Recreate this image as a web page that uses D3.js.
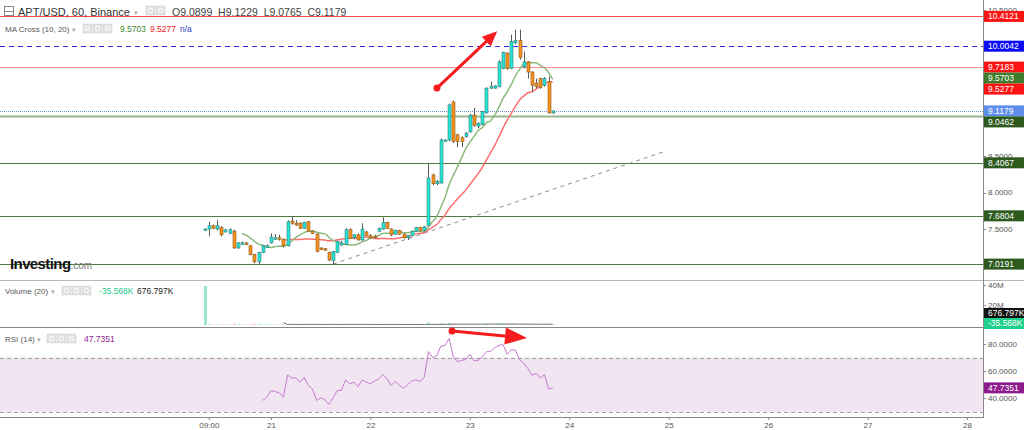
<!DOCTYPE html>
<html>
<head>
<meta charset="utf-8">
<script src="https://cdn.jsdelivr.net/npm/d3@7"></script>
<style>
  body { margin: 0; background: #fff; }
  svg { display: block; font-family: "Liberation Sans", Arial, sans-serif; }
</style>
</head>
<body>
<div id="chart"></div>
<script>
// hourly candles, first one at 20th 08:00 (hour 8 from the 20th 00:00)
const startHour = 8;
const opens = [7.49,7.50,7.545,7.50,7.52,7.46,7.44,7.47,7.24,7.30,7.31,7.27,7.15,7.05,7.18,7.26,7.31,7.37,7.38,7.36,
  7.27,7.61,7.58,7.58,7.51,7.60,7.47,7.43,7.24,7.23,7.18,7.07,7.18,7.28,7.29,7.49,7.38,7.42,7.35,7.46,
  7.41,7.40,7.47,7.50,7.59,7.50,7.43,7.48,7.43,7.38,7.41,7.47,7.52,7.48,7.55,8.24,8.12,8.13,8.70,8.72,
  9.24,8.79,8.75,8.77,8.83,9.06,8.91,8.93,9.09,9.43,9.43,9.45,9.70,9.91,9.70,10.05,10.08,9.72,9.79,9.65,
  9.50,9.56,9.47,9.52,9.0899];
const highs = [7.51,7.60,7.56,7.62,7.54,7.50,7.51,7.49,7.32,7.33,7.32,7.28,7.16,7.19,7.28,7.29,7.44,7.43,7.42,7.37,
  7.62,7.68,7.62,7.59,7.60,7.61,7.48,7.44,7.25,7.24,7.19,7.20,7.34,7.34,7.51,7.51,7.43,7.44,7.58,7.47,
  7.43,7.42,7.52,7.66,7.60,7.51,7.49,7.49,7.44,7.42,7.48,7.53,7.53,7.54,8.40,8.26,8.17,8.74,8.73,9.22,
  9.26,8.80,8.77,8.83,9.08,9.16,8.96,9.12,9.44,9.52,9.47,9.81,9.93,9.92,10.16,10.23,10.23,9.93,9.80,9.66,
  9.56,9.57,9.58,9.59,9.1229];
const lows = [7.48,7.40,7.50,7.48,7.40,7.45,7.43,7.23,7.23,7.29,7.28,7.14,7.03,7.02,7.17,7.25,7.30,7.35,7.34,7.25,
  7.26,7.56,7.54,7.50,7.50,7.46,7.43,7.18,7.21,7.20,7.06,7.01,7.17,7.27,7.28,7.36,7.36,7.34,7.34,7.40,
  7.37,7.37,7.46,7.49,7.50,7.40,7.42,7.42,7.37,7.35,7.40,7.46,7.47,7.47,7.54,8.10,8.10,8.12,8.69,8.70,
  8.68,8.62,8.62,8.75,8.82,8.90,8.88,8.92,9.08,9.42,9.42,9.44,9.69,9.68,9.69,10.03,9.82,9.70,9.56,9.38,
  9.43,9.42,9.45,9.08,9.0765];
const closes = [7.50,7.545,7.51,7.545,7.42,7.49,7.49,7.24,7.31,7.31,7.29,7.15,7.05,7.18,7.27,7.27,7.39,7.38,7.36,7.27,
  7.60,7.58,7.555,7.51,7.59,7.47,7.44,7.19,7.22,7.21,7.075,7.19,7.33,7.31,7.49,7.37,7.42,7.35,7.50,7.41,
  7.38,7.38,7.51,7.59,7.51,7.42,7.48,7.43,7.38,7.41,7.47,7.52,7.48,7.53,8.20,8.12,8.15,8.72,8.72,9.20,
  8.70,8.70,8.70,8.81,9.06,8.92,8.95,9.11,9.43,9.45,9.46,9.79,9.92,9.70,10.07,10.08,9.85,9.79,9.65,9.47,
  9.45,9.44,9.56,9.09,9.1179];
// volume in millions
const volumes = [39,0.6,0.4,0.5,0.7,0.3,0.4,1.1,0.6,0.3,0.3,0.8,0.9,0.7,0.5,0.3,0.6,0.4,0.3,0.6,
  1.2,0.7,0.4,0.5,0.4,0.6,0.4,1.0,0.4,0.3,0.8,0.9,0.5,0.6,0.5,0.9,0.5,0.4,0.6,0.4,
  0.3,0.3,0.5,0.8,0.6,0.5,0.4,0.4,0.3,0.5,0.4,0.3,0.4,0.5,2.4,1.3,0.7,1.6,0.8,1.8,
  1.5,0.9,0.8,0.6,0.9,0.7,0.5,0.6,1.2,0.6,0.5,1.3,1.0,0.9,1.4,0.8,0.9,0.7,0.8,0.6,
  0.5,0.5,0.6,1.1,0.68];
// RSI(14), first point at hour 22
const rsiStart = 22;
const rsiValues = [38.5,41,45.8,45,43.9,41,57.2,55,55,51.9,55.5,49.5,47,38.5,40.5,39,35.6,40.5,45.8,46,
  53.6,50.7,52,48.7,53.6,52,50.7,52.7,54.3,57.5,54.3,49.5,52.5,49.5,47.5,50.2,53,53.6,52.5,55.5,
  74.4,70,71.2,78.5,79,84,70.5,67,68,68.5,72.5,67.5,68,70.5,74.4,74.4,77.3,79,79.6,72.4,
  75.8,75.5,68.5,66,62,57,58.5,55,57.5,47,47.7351];

const tickHours = [9, 24, 48, 72, 96, 120, 144, 168, 192];
const tickLabels = ['09:00', '21', '22', '23', '24', '25', '26', '27', '28'];
const priceTicks = [7.5, 8, 8.5, 9, 9.5, 10, 10.5];
const volumeTicks = [20, 40];
const volumeTickLabels = ['20M', '40M'];
const rsiTicks = [40, 60, 80];

// drawn horizontal levels
const levelValues = [10.4121, 10.0042, 9.7183, 9.0462, 8.4067, 7.6804, 7.0191];
const lastPrice = 9.1179;
const maValues = [9.5703, 9.5277];
const volumeLabels = ['676.797K', '-35.568K'];
const rsiLast = 47.7351;

// annotations in [hour, value]
const trendLine = [[39, 7.02], [118.6, 8.555]];
const priceArrow = [[64.05, 9.43], [78.6, 10.21]];
const rsiArrow = [[67.7, 89.5], [85.8, 84.4]];

const width = 1024, height = 430;
const plotRight = 983;

const svg = d3.select('#chart').append('svg')
  .attr('width', width).attr('height', height)
  .attr('viewBox', `0 0 ${width} ${height}`);

const x = d3.scaleLinear().domain([0, 192]).range([171.6, 967]);
const y = d3.scaleLinear().domain([7.5, 10.5]).range([229, 10]);
const yVol = d3.scaleLinear().domain([0, 40]).range([325, 285]);
const yRsi = d3.scaleLinear().domain([40, 80]).range([398.4, 344]);

const candles = opens.map((o, i) => ({
  t: startHour + i, o, hi: highs[i], lo: lows[i], c: closes[i], v: volumes[i]
}));

const movingAverage = function(values, N) {
  const result = new Float64Array(values.length).fill(NaN);
  let sum = 0;
  for (let i = 0; i < values.length; ++i) {
    sum += values[i];
    if (i >= N) sum -= values[i - N];
    if (i >= N - 1) result[i] = sum / N;
  }
  return result;
};

const defs = svg.append('defs');
defs.append('clipPath').attr('id', 'clipMain')
  .append('rect').attr('x', 0).attr('y', 0).attr('width', plotRight).attr('height', 280);
defs.append('clipPath').attr('id', 'clipRsi')
  .append('rect').attr('x', 0).attr('y', 328).attr('width', plotRight).attr('height', 89);

// ---------- panel frames
svg.append('line').attr('x1', 0).attr('x2', width).attr('y1', 280.5).attr('y2', 280.5).attr('stroke', '#b8b8b8');
svg.append('line').attr('x1', 0).attr('x2', plotRight).attr('y1', 327.5).attr('y2', 327.5).attr('stroke', '#888');
svg.append('line').attr('x1', 0).attr('x2', plotRight + 1).attr('y1', 417.5).attr('y2', 417.5).attr('stroke', '#888');
svg.append('line').attr('x1', plotRight + 0.5).attr('x2', plotRight + 0.5).attr('y1', 0).attr('y2', 418).attr('stroke', '#888');

// ---------- main panel
const main = svg.append('g').attr('clip-path', 'url(#clipMain)');

const levelStyle = [
  {stroke: '#ff4a4a', w: 1, dash: null},
  {stroke: '#2b2be8', w: 1, dash: '5,4'},
  {stroke: '#ff8c8c', w: 1.2, dash: null},
  {stroke: '#9cb68e', w: 2, dash: null},
  {stroke: '#4f7a3c', w: 1, dash: null},
  {stroke: '#4f7a3c', w: 1, dash: null},
  {stroke: '#4f7a3c', w: 1, dash: null}
];

main.selectAll('line.level')
  .data(levelValues)
  .join('line')
    .attr('class', 'level')
    .attr('x1', 0).attr('x2', plotRight)
    .attr('y1', d => Math.round(y(d)) + 0.5)
    .attr('y2', d => Math.round(y(d)) + 0.5)
    .attr('stroke', (d, i) => levelStyle[i].stroke)
    .attr('stroke-width', (d, i) => levelStyle[i].w)
    .attr('stroke-dasharray', (d, i) => levelStyle[i].dash);

// last price dotted line
main.append('line')
  .attr('x1', 0).attr('x2', plotRight)
  .attr('y1', Math.round(y(lastPrice)) + 0.5).attr('y2', Math.round(y(lastPrice)) + 0.5)
  .attr('stroke', '#6d8fe0').attr('stroke-dasharray', '1,1');

// dashed trend line
main.append('line')
  .attr('x1', x(trendLine[0][0])).attr('y1', y(trendLine[0][1]))
  .attr('x2', x(trendLine[1][0])).attr('y2', y(trendLine[1][1]))
  .attr('stroke', '#8a8a8a').attr('stroke-dasharray', '4,4');

// Investing logo
const logo = svg.append('text').attr('x', 10).attr('y', 269);
logo.append('tspan').text('Investing')
  .attr('font-weight', 'bold').attr('font-size', 15).attr('letter-spacing', -0.6).attr('fill', '#111');
logo.append('tspan').text('.com').attr('font-size', 10).attr('fill', '#777');

// moving averages
const ma10 = movingAverage(closes, 10);
const ma20 = movingAverage(closes, 20);
const maLine = d3.line()
  .defined(d => !isNaN(d))
  .x((d, i) => x(startHour + i))
  .y(d => y(d))
  .curve(d3.curveMonotoneX);

main.append('path').attr('d', maLine(ma20))
  .attr('fill', 'none').attr('stroke', '#ff6e6e').attr('stroke-width', 1.5);
main.append('path').attr('d', maLine(ma10))
  .attr('fill', 'none').attr('stroke', '#8cb97c').attr('stroke-width', 1.5);

// candles
const cg = main.append('g');
cg.selectAll('line')
  .data(candles)
  .join('line')
    .attr('x1', d => Math.round(x(d.t)) + 0.5).attr('x2', d => Math.round(x(d.t)) + 0.5)
    .attr('y1', d => y(d.hi)).attr('y2', d => y(d.lo))
    .attr('stroke', '#5a5a5a').attr('stroke-width', 1);

cg.selectAll('rect')
  .data(candles)
  .join('rect')
    .attr('x', d => Math.round(x(d.t)) - 1)
    .attr('width', 3)
    .attr('y', d => y(Math.max(d.o, d.c)))
    .attr('height', d => Math.max(1.5, Math.abs(y(d.o) - y(d.c))))
    .attr('fill', d => d.c >= d.o ? '#22e6d6' : '#f7931e')
    .attr('stroke', d => d.c >= d.o ? '#3d7d78' : '#8e5a17')
    .attr('stroke-width', 0.6);

// red arrows
const drawArrow = (g, pts, yScale, head, headW) => {
  const p0 = [x(pts[0][0]), yScale(pts[0][1])];
  const p1 = [x(pts[1][0]), yScale(pts[1][1])];
  const a = Math.atan2(p1[1] - p0[1], p1[0] - p0[0]);
  const bx = p1[0] - head * Math.cos(a), by = p1[1] - head * Math.sin(a);
  const nx = -Math.sin(a) * headW / 2, ny = Math.cos(a) * headW / 2;
  g.append('line')
    .attr('x1', p0[0]).attr('y1', p0[1]).attr('x2', bx + 2 * Math.cos(a)).attr('y2', by + 2 * Math.sin(a))
    .attr('stroke', '#f41c1c').attr('stroke-width', 3);
  g.append('circle').attr('cx', p0[0]).attr('cy', p0[1]).attr('r', 3.5).attr('fill', '#f41c1c');
  g.append('path')
    .attr('d', `M${p1[0]},${p1[1]}L${bx + nx},${by + ny}L${bx - nx},${by - ny}Z`)
    .attr('fill', '#f41c1c');
};
drawArrow(svg.append('g'), priceArrow, y, 15, 13);

// ---------- volume panel
const vg = svg.append('g');
vg.selectAll('rect')
  .data(candles)
  .join('rect')
    .attr('x', d => Math.round(x(d.t)) - 1)
    .attr('width', 3)
    .attr('y', d => yVol(d.v))
    .attr('height', d => yVol(0) - yVol(d.v))
    .attr('fill', d => d.c >= d.o ? '#9ce8cc' : '#f7c2c2');

const volMa = movingAverage(volumes, 20);
vg.append('path')
  .attr('d', d3.line().defined(d => !isNaN(d)).x((d, i) => x(startHour + i)).y(d => yVol(d))(volMa))
  .attr('fill', 'none').attr('stroke', '#777').attr('stroke-width', 1);

// ---------- RSI panel
const rg = svg.append('g').attr('clip-path', 'url(#clipRsi)');
rg.append('rect')
  .attr('x', 0).attr('width', plotRight)
  .attr('y', yRsi(70)).attr('height', yRsi(30) - yRsi(70))
  .attr('fill', '#f2e5f2');
rg.selectAll('line.band')
  .data([70, 30])
  .join('line')
    .attr('class', 'band')
    .attr('x1', 0).attr('x2', plotRight)
    .attr('y1', d => Math.round(yRsi(d)) + 0.5).attr('y2', d => Math.round(yRsi(d)) + 0.5)
    .attr('stroke', '#a0a0a0').attr('stroke-dasharray', '4,3');
rg.append('path')
  .attr('d', d3.line().x((d, i) => x(rsiStart + i)).y(d => yRsi(d))(rsiValues))
  .attr('fill', 'none').attr('stroke', '#c57ccf').attr('stroke-width', 1);

drawArrow(svg.append('g'), rsiArrow, yRsi, 22, 17);

// ---------- x axis
const xAxis = g => g
  .attr('transform', 'translate(0,417)')
  .call(d3.axisBottom(x).tickValues(tickHours).tickFormat((d, i) => tickLabels[i]).tickSize(3).tickPadding(2))
  .call(g => g.select('.domain').remove())
  .call(g => g.selectAll('.tick line').attr('stroke', '#888'))
  .call(g => g.selectAll('.tick text').attr('fill', '#555').attr('font-size', 8)
    .attr('font-family', '"Liberation Sans Narrow", "Liberation Sans", sans-serif'));
svg.append('g').call(xAxis);

// ---------- colored value labels on the right axis
const stackDown = (items, h) => {
  items.sort((a, b) => a.y - b.y);
  for (let i = 1; i < items.length; ++i) {
    if (items[i].y - items[i - 1].y < h) items[i].y = items[i - 1].y + h;
  }
  return items;
};

const levelBg = ['#ff1414', '#0b0bf5', '#ff1414', '#2d5a1d', '#2d5a1d', '#2d5a1d', '#2d5a1d'];
const priceLabels = stackDown([
  ...levelValues.map((v, i) => ({v, y: y(v), bg: levelBg[i], fg: '#fff'})),
  {v: lastPrice, y: y(lastPrice), bg: '#5f8fea', fg: '#fff'},
  {v: maValues[0], y: y(maValues[0]), bg: '#3f7d2c', fg: '#fff'},
  {v: maValues[1], y: y(maValues[1]), bg: '#ff1414', fg: '#fff'}
], 11);

// ---------- right axis ticks (skip those fully hidden by a value label)
const rightTicks = (scale, values, fmt, covers) => {
  const shown = values.filter(v => !covers.some(c => Math.abs(c - scale(v)) < 5));
  const g = svg.append('g');
  g.selectAll('line')
    .data(values)
    .join('line')
      .attr('x1', plotRight).attr('x2', plotRight + 3)
      .attr('y1', d => Math.round(scale(d)) + 0.5).attr('y2', d => Math.round(scale(d)) + 0.5)
      .attr('stroke', '#888');
  g.selectAll('text')
    .data(shown)
    .join('text')
      .attr('x', plotRight + 5).attr('y', d => scale(d)).attr('dy', '0.35em')
      .attr('font-size', 8).attr('fill', '#555')
      .text(d => fmt(d, values.indexOf(d)));
};
rightTicks(y, priceTicks, d3.format('.4f'), priceLabels.map(d => d.y));
rightTicks(yVol, volumeTicks, (d, i) => volumeTickLabels[i], []);
rightTicks(yRsi, rsiTicks, d3.format('.4f'), []);

const volLabelData = [
  {text: volumeLabels[0], y: 313.5, bg: '#111', fg: '#fff'},
  {text: volumeLabels[1], y: 323.5, bg: '#1fd08c', fg: '#fff'}
];

const allLabels = [
  ...priceLabels.map(d => ({text: d3.format('.4f')(d.v), y: d.y, bg: d.bg, fg: d.fg})),
  ...volLabelData,
  {text: d3.format('.4f')(rsiLast), y: yRsi(rsiLast), bg: '#8e1b8e', fg: '#fff'}
];

const lab = svg.append('g').selectAll('g')
  .data(allLabels)
  .join('g')
    .attr('transform', d => `translate(${plotRight + 1},${d.y - 5.5})`);
lab.append('rect').attr('width', 41).attr('height', 11).attr('fill', d => d.bg);
lab.append('text')
  .attr('x', 4).attr('y', 5.5).attr('dy', '0.35em')
  .attr('font-size', 8.5).attr('fill', d => d.fg)
  .text(d => d.text);

// ---------- legends
const icons = (px, py, n) => {
  for (let i = 0; i < n; ++i) {
    svg.append('rect')
      .attr('x', px + i * 10).attr('y', py).attr('width', 9).attr('height', 9)
      .attr('fill', '#e2e2e2').attr('stroke', '#cfcfcf').attr('stroke-width', 0.5);
    svg.append('circle')
      .attr('cx', px + i * 10 + 4.5).attr('cy', py + 4.5).attr('r', 2.2)
      .attr('fill', 'none').attr('stroke', '#fff').attr('stroke-width', 1);
  }
};
const caret = (px, py) => svg.append('text').attr('x', px).attr('y', py)
  .attr('font-size', 7).attr('fill', '#aaa').text('▾');

svg.append('rect').attr('x', 4.5).attr('y', 6.5).attr('width', 9).attr('height', 9)
  .attr('fill', 'none').attr('stroke', '#888');
svg.append('line').attr('x1', 4.5).attr('x2', 13.5).attr('y1', 11.5).attr('y2', 11.5).attr('stroke', '#888');
svg.append('text').attr('x', 18).attr('y', 16)
  .attr('font-size', 11).attr('fill', '#333').text('APT/USD, 60, Binance');
caret(134, 15);
icons(146, 6, 2);
svg.append('text').attr('x', 172).attr('y', 16).attr('font-size', 10.5).attr('fill', '#444')
  .attr('xml:space', 'preserve')
  .text(`O${opens[opens.length - 1].toFixed(4)}  H${highs[highs.length - 1].toFixed(4)}  L${lows[lows.length - 1].toFixed(4)}  C${closes[closes.length - 1].toFixed(4)}`);

svg.append('text').attr('x', 5).attr('y', 32).attr('font-size', 8).attr('fill', '#555').text('MA Cross (10, 20)');
caret(72, 32);
icons(83, 24, 3);
svg.append('text').attr('x', 120).attr('y', 32).attr('font-size', 8.5).attr('fill', '#3c8a2c').text(maValues[0].toFixed(4));
svg.append('text').attr('x', 150).attr('y', 32).attr('font-size', 8.5).attr('fill', '#f01e1e').text(maValues[1].toFixed(4));
svg.append('text').attr('x', 180).attr('y', 32).attr('font-size', 8.5).attr('fill', '#2a3cc0').text('n/a');

svg.append('text').attr('x', 5).attr('y', 294).attr('font-size', 8).attr('fill', '#555').text('Volume (20)');
caret(51, 294);
icons(62, 286, 3);
svg.append('text').attr('x', 99).attr('y', 294).attr('font-size', 8.5).attr('fill', '#1fc98a').text(volumeLabels[1]);
svg.append('text').attr('x', 137).attr('y', 294).attr('font-size', 8.5).attr('fill', '#222').text(volumeLabels[0]);

svg.append('text').attr('x', 5).attr('y', 342).attr('font-size', 8).attr('fill', '#555').text('RSI (14)');
caret(37, 342);
icons(47, 334, 3);
svg.append('text').attr('x', 84).attr('y', 342).attr('font-size', 8.5).attr('fill', '#8e1b8e').text(rsiLast.toFixed(4));
</script>
</body>
</html>
